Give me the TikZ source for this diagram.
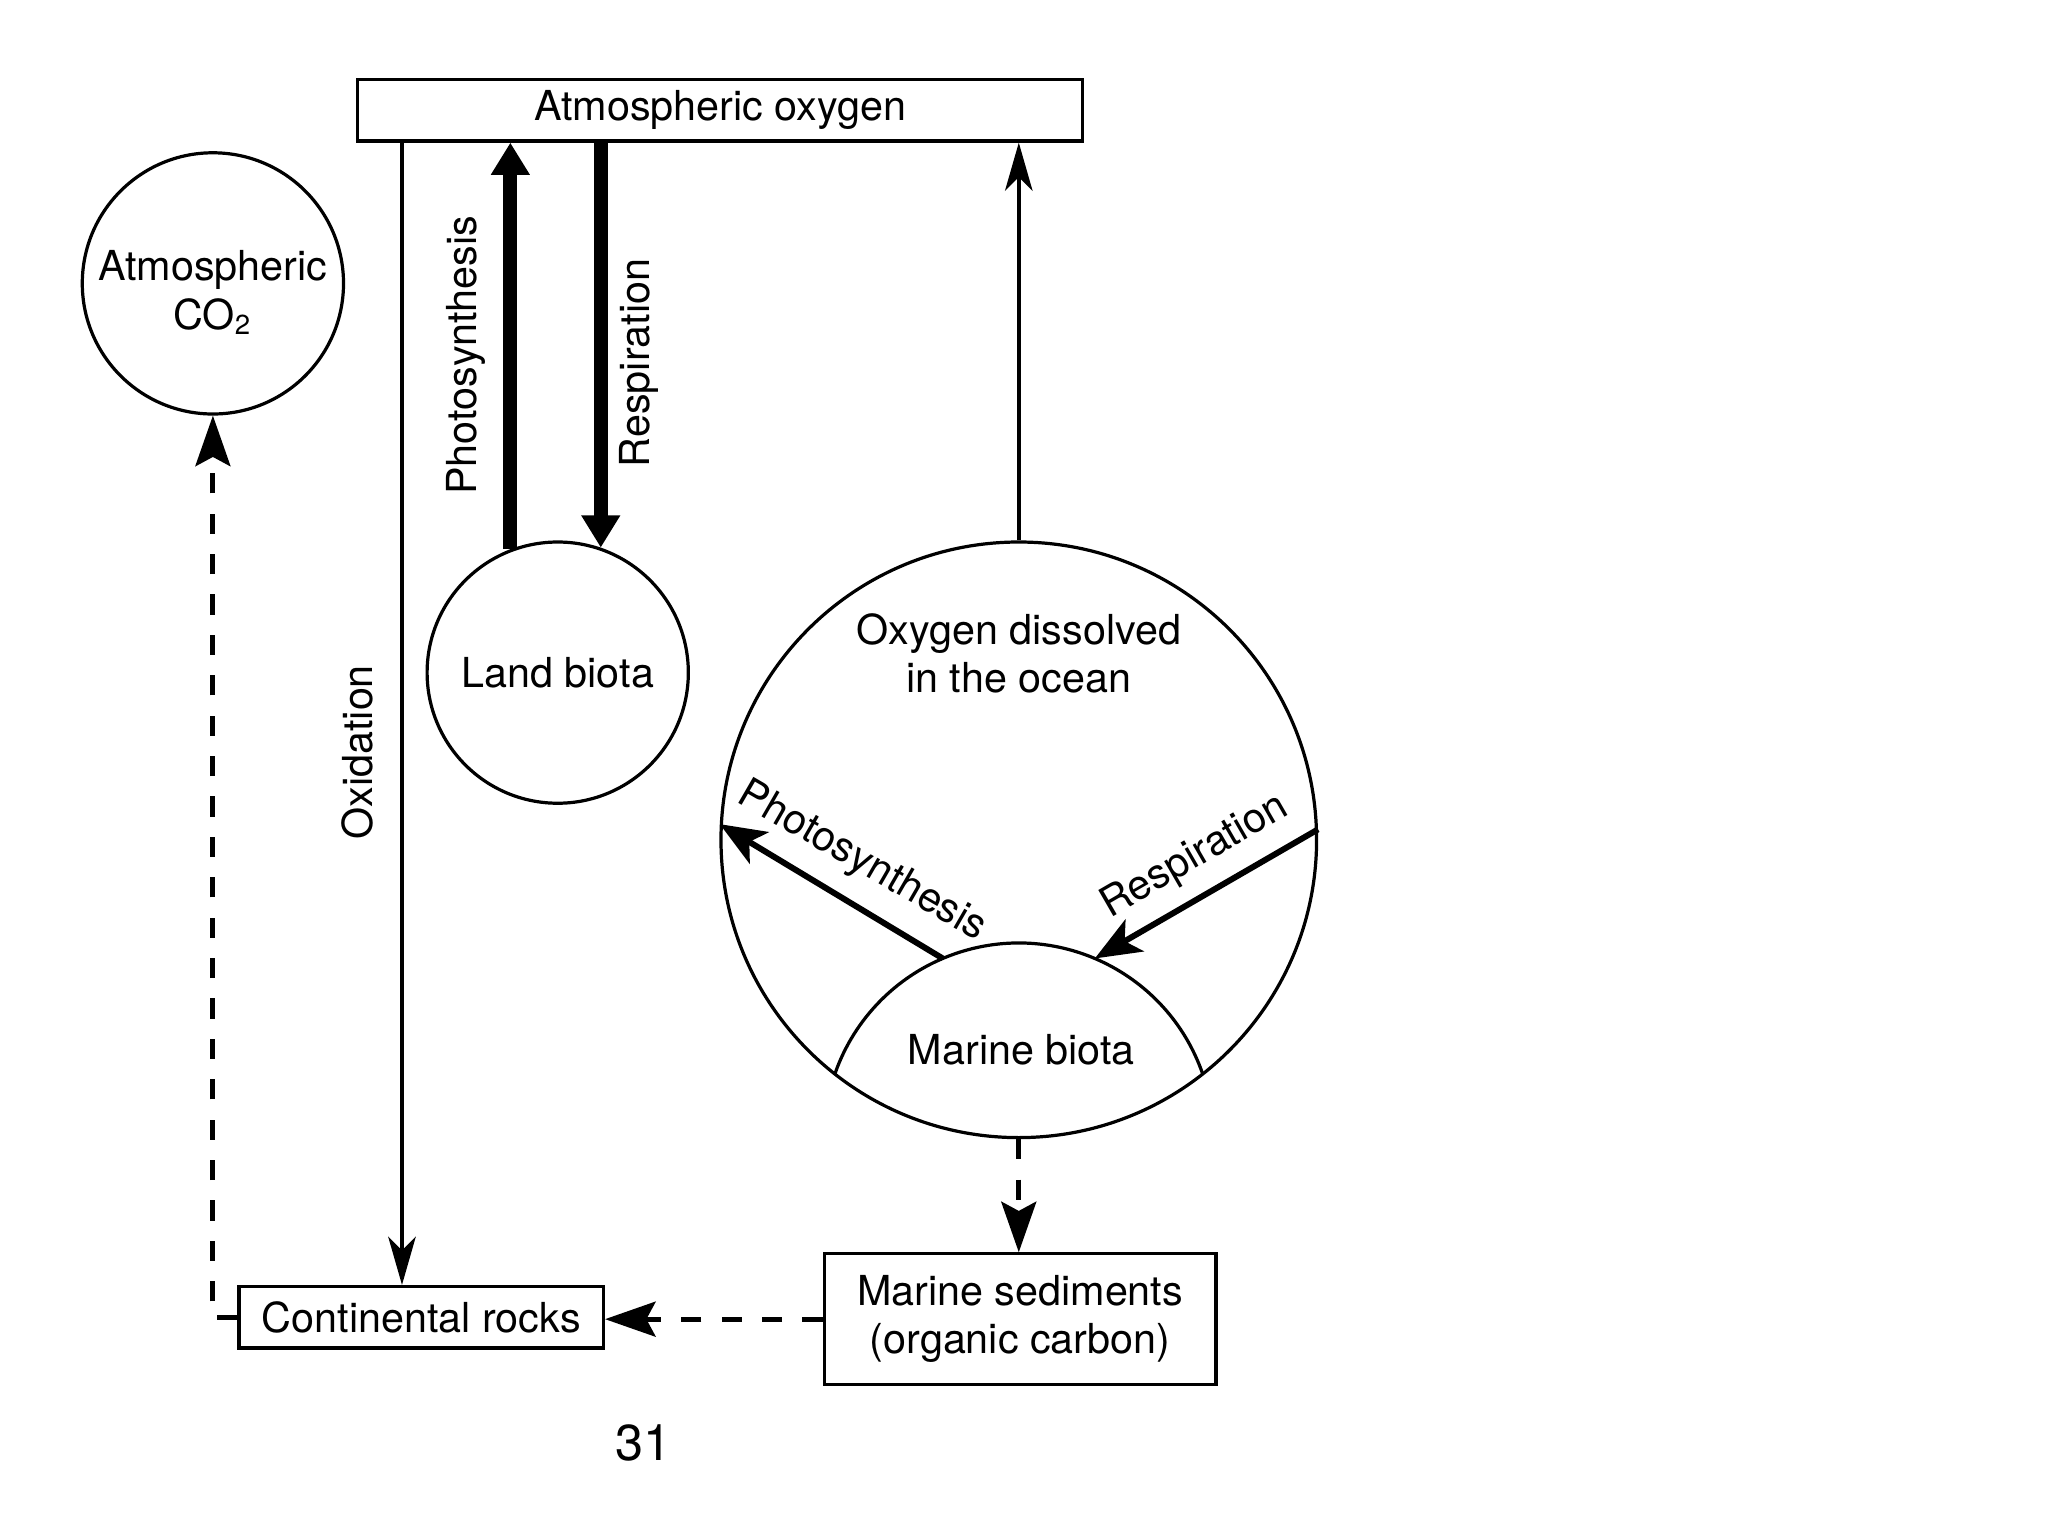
\documentclass[tikz,border=0pt]{standalone}
\usepackage{fontspec}
\setmainfont{TeX Gyre Heros}
\usetikzlibrary{arrows.meta,calc,positioning}

\begin{document}
\begin{tikzpicture}[
                font=\fontsize{9}{10.5}\selectfont,
                box/.style={draw, line width=0.7pt, inner sep=0pt},
                pool/.style={draw, circle, line width=0.7pt, inner sep=0pt},
                flux/.style={line width=0.8pt, -{Stealth[length=10.5pt, width=6pt, inset=3pt]}},
                bigflux/.style={line width=3pt, -{Triangle[length=7pt, width=8pt]}},
                seaflux/.style={line width=1.3pt, -{Stealth[length=10pt, width=8pt, inset=2.5pt]}},
                burial/.style={line width=1.1pt, dash pattern=on 4.4pt off 4.4pt, -{Stealth[length=11pt, width=7.6pt, inset=2pt]}}
            ]
                \useasboundingbox (0,-0.06) rectangle (15.68,11.70);

                \node[box, minimum width=5.55cm, minimum height=0.47cm] (atmox) at (5.515,10.855) {Atmospheric oxygen};
                \node[pool, minimum size=2cm] (co2) at (1.63,9.53) {};
                \node[align=center] (co2txt) at (1.63,9.46) {Atmospheric\\CO\textsubscript{2}};
                \node[pool, minimum size=2cm] (land) at (4.27,6.55) {Land biota};
                \node[pool, minimum size=4.56cm] (ocean) at (7.80,5.27) {};
                \node[align=center] (oceantxt) at (7.80,6.70) {Oxygen dissolved\\in the ocean};

                \coordinate (mb) at (7.80,2.99);
                \draw[line width=0.7pt] (mb) ++(19.2:1.49) arc[start angle=19.2, end angle=160.8, radius=1.49];
                \node (marine) at (7.82,3.66) {Marine biota};

                \node[box, minimum width=2.79cm, minimum height=0.47cm] (rocks) at (3.225,1.615) {Continental rocks};
                \node[box, minimum width=3cm, minimum height=1cm, align=center] (sed) at (7.81,1.60) {Marine sediments\\(organic carbon)};
                \node[font=\fontsize{11}{13}\selectfont] (page) at (4.93,0.65) {31};

                \node[rotate=90] (lblphotoland) at (3.57,8.98) {Photosynthesis};
                \node[rotate=90] (lblrespland) at (4.89,8.92) {Respiration};
                \node[rotate=90] (lbloxid) at (2.74,5.94) {Oxidation};
                \node[rotate=-30] (lblphotosea) at (6.60,5.10) {Photosynthesis};
                \node[rotate=30] (lblrespsea) at (9.15,5.14) {Respiration};

                \coordinate (oxtop) at ($(atmox.south west)+(0.35,0)$);
                \draw[flux] (oxtop) -- (oxtop |- rocks.north);
                \draw[bigflux] (land.111) -- (land.111 |- atmox.south);
                \draw[bigflux] (land.71 |- atmox.south) -- (land.71);
                \draw[flux] (ocean.north) -- (ocean.north |- atmox.south);

                \draw[seaflux] ($(mb)+(113:1.49)$) -- (ocean.177);
                \draw[seaflux] (ocean.2) -- ($(mb)+(67:1.49)$);

                \draw[burial] (ocean.south) -- (ocean.south |- sed.north);
                \draw[burial] (sed.west) -- (sed.west -| rocks.east);
                \draw[burial] (rocks.west) -| (co2.south);
            \end{tikzpicture}
\end{document}
